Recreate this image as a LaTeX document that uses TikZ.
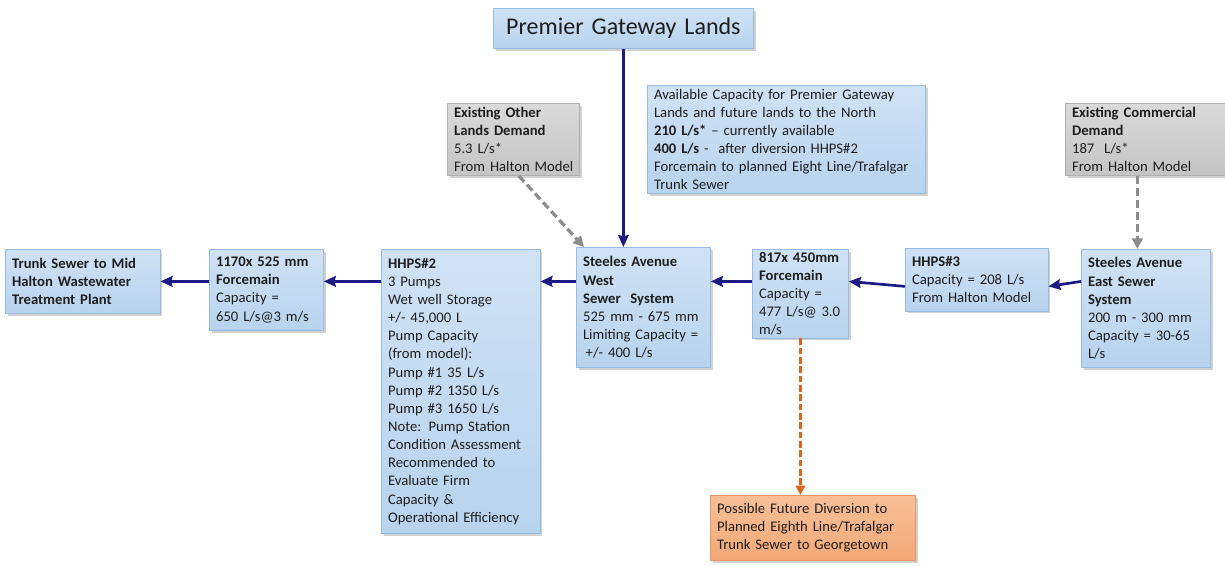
\documentclass[tikz,border=0pt]{standalone}
\usepackage{fontspec}
\setmainfont{Carlito}
\usetikzlibrary{arrows.meta,shadows}

\definecolor{boxtop}{RGB}{208,226,245}
\definecolor{boxbot}{RGB}{184,211,238}
\definecolor{boxline}{RGB}{150,188,226}
\definecolor{greytop}{RGB}{218,218,218}
\definecolor{greybot}{RGB}{196,196,196}
\definecolor{greyline}{RGB}{175,175,175}
\definecolor{orangetop}{RGB}{248,192,152}
\definecolor{orangebot}{RGB}{241,168,118}
\definecolor{orangeline}{RGB}{232,150,100}
\definecolor{navy}{RGB}{28,26,132}
\definecolor{greyarrow}{RGB}{140,140,140}
\definecolor{orangearrow}{RGB}{222,100,30}
\definecolor{textcol}{RGB}{30,30,30}

\begin{document}
\begin{tikzpicture}[x=0.75pt, y=-0.75pt,
    box/.style={draw=boxline, line width=0.6pt, top color=boxtop, bottom color=boxbot,
        anchor=north west, align=left, inner xsep=5pt, inner ysep=2pt, text=textcol,
        font=\fontsize{11}{13.6}\selectfont,
        drop shadow={shadow xshift=1.8pt, shadow yshift=-1.8pt, opacity=0.3, fill=black!60}},
    greybox/.style={box, draw=greyline, top color=greytop, bottom color=greybot},
    orangebox/.style={box, draw=orangeline, top color=orangetop, bottom color=orangebot},
    flow/.style={draw=navy, line width=2pt, -{Stealth[length=9pt, width=8pt, inset=1pt]}},
    demand/.style={draw=greyarrow, line width=2.4pt, dash pattern=on 6pt off 3pt,
        -{Triangle[length=8pt, width=8pt]}},
    divert/.style={draw=orangearrow, line width=2pt, dash pattern=on 5pt off 2pt,
        -{Triangle[length=7pt, width=7pt]}}]
    \useasboundingbox (0,0) rectangle (1225,565);
    \node[box, text width=106pt, minimum height=48pt] (trunk) at (5,249)
        {\textbf{Trunk Sewer to Mid}\\\textbf{Halton Wastewater}\\\textbf{Treatment Plant}};
    \node[box, text width=75.5pt, minimum height=60.75pt] (fm1) at (209,249)
        {\textbf{1170x 525 mm}\\\textbf{Forcemain}\\Capacity =\\650~L/s@3~m/s};
    \node[box, text width=109pt, minimum height=213pt] (hhps2) at (381,249)
        {\textbf{HHPS\#2}\\3 Pumps\\Wet well Storage\\+/- 45,000 L\\Pump Capacity\\(from model):\\
        Pump \#1 35 L/s\\Pump \#2 1350 L/s\\Pump \#3 1650 L/s\\Note: Pump Station\\
        Condition~Assessment\\Recommended to\\Evaluate Firm\\Capacity \&\\Operational~Efficiency};
    \node[box, text width=90.5pt, minimum height=90pt] (sw) at (576,247)
        {\textbf{Steeles Avenue}\\\textbf{West}\\\textbf{Sewer~ System}\\525 mm - 675 mm\\
        Limiting~Capacity~=\\\hspace{2pt}+/- 400 L/s};
    \node[box, text width=62pt, minimum height=66pt] (fm2) at (752,249)
        {\textbf{817x 450mm}\\\textbf{Forcemain}\\Capacity =\\477~L/s@~3.0\\m/s};
    \node[box, text width=97pt, minimum height=47pt] (hhps3) at (905,248)
        {\textbf{HHPS\#3}\\Capacity = 208 L/s\\From Halton Model};
    \node[box, text width=87pt, minimum height=88.5pt] (se) at (1081,249)
        {\textbf{Steeles Avenue}\\\textbf{East Sewer}\\\textbf{System}\\200 m - 300 mm\\
        Capacity = 30-65\\L/s};
    \node[box, align=center, text width=185pt, minimum height=30pt,
        font=\fontsize{18}{21}\selectfont] (pgl) at (493,8) {Premier Gateway Lands};
    \node[box, text width=198.5pt, minimum height=81pt] (avail) at (647,85)
        {Available Capacity for Premier Gateway\\Lands and future lands to the North\\
        \textbf{210 L/s*} – currently available\\\textbf{400 L/s} -\ \ after diversion HHPS\#2\\
        Forcemain~to~planned~Eight~Line/Trafalgar\\Trunk Sewer};
    \node[greybox, text width=89pt, minimum height=54pt] (other) at (447,103)
        {\textbf{Existing Other}\\\textbf{Lands Demand}\\5.3 L/s*\\\mbox{From Halton Model}};
    \node[greybox, text width=110pt, minimum height=54pt] (comm) at (1065,103)
        {\textbf{Existing Commercial}\\\textbf{Demand}\\187~ L/s*\\\mbox{From Halton Model}};
    \node[orangebox, text width=143.75pt, minimum height=48.75pt] (future) at (710,495)
        {Possible Future Diversion to\\Planned Eighth Line/Trafalgar\\Trunk Sewer to Georgetown};
    \draw[flow] (fm1.west |- trunk) -- (trunk.east);
    \draw[flow] (hhps2.west |- trunk) -- (fm1.east |- trunk);
    \draw[flow] (sw.west |- trunk) -- (hhps2.east |- trunk);
    \draw[flow] (fm2.west |- trunk) -- (sw.east |- trunk);
    \draw[flow] ([yshift=-5pt]hhps3.west) -- (fm2.east |- trunk);
    \draw[flow] (se.west |- trunk) -- ([yshift=-5pt]hhps3.east);
    \draw[flow] (pgl) -- (pgl |- sw.north);
    \draw[demand] ([xshift=4pt]other.south) -- ([xshift=6pt]sw.north west);
    \draw[demand] ([xshift=-6pt]comm.south) -- ([xshift=-6pt]comm.south |- se.north);
    \draw[divert] (fm2) -- (fm2 |- future.north);
\end{tikzpicture}
\end{document}
